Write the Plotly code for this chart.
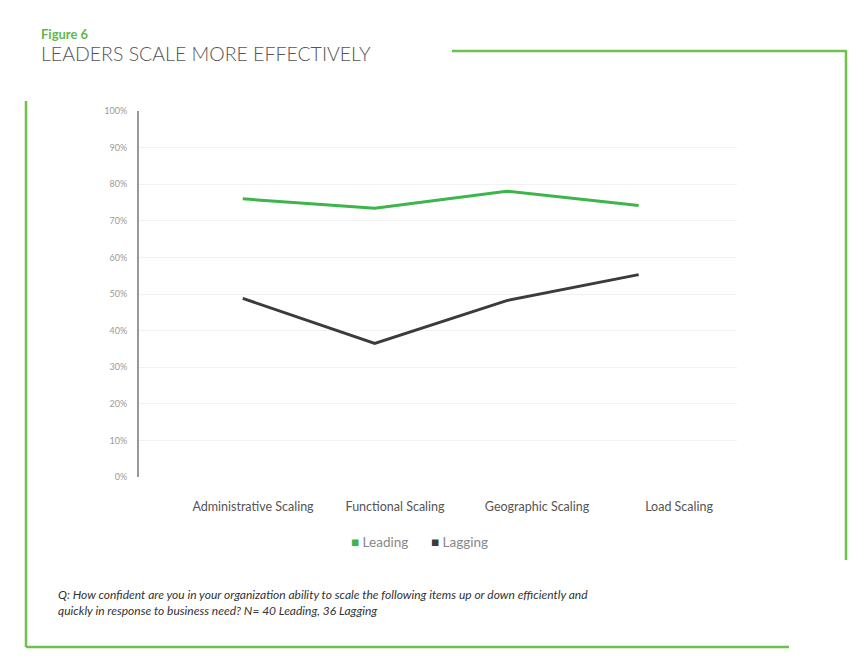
import plotly.graph_objects as go

categories = ["Administrative Scaling", "Functional Scaling", "Geographic Scaling", "Load Scaling"]
leading = [0.76, 0.734, 0.781, 0.742]
lagging = [0.488, 0.365, 0.482, 0.553]
y_ticks = [0, 0.1, 0.2, 0.3, 0.4, 0.5, 0.6, 0.7, 0.8, 0.9, 1.0]

GREEN = "#3db54a"
DARK = "#3b3b3b"
FRAME = "#6cc24a"
FONT = "Lato"

fig = go.Figure()
fig.add_trace(go.Scatter(x=categories, y=leading, mode="lines", name="Leading",
                         line=dict(color=GREEN, width=3), showlegend=False))
fig.add_trace(go.Scatter(x=categories, y=lagging, mode="lines", name="Lagging",
                         line=dict(color=DARK, width=3), showlegend=False))
# invisible trace carrying the category labels on the label axis
fig.add_trace(go.Scatter(x=categories, y=[None] * len(categories), xaxis="x2",
                         mode="lines", showlegend=False, hoverinfo="skip"))

fig.update_layout(
    width=864, height=668,
    margin=dict(l=131, r=135, t=103, b=199),
    paper_bgcolor="white", plot_bgcolor="white",
    font=dict(family=FONT, color="#555555"),
    xaxis=dict(type="category", range=[-0.786, 3.745], showticklabels=False,
               showgrid=False, zeroline=False, showline=False, ticks=""),
    xaxis2=dict(type="category", overlaying="x", side="bottom", range=[-0.803, 3.408],
                showgrid=False, zeroline=False, showline=False, ticks="",
                tickfont=dict(size=12.5, color="#555555", family=FONT),
                ticklabelstandoff=20),
    yaxis=dict(range=[0, 1], tickvals=y_ticks, tickformat=".0%",
               tickfont=dict(size=9, color="#9a9a9a", family=FONT),
               showgrid=True, gridcolor="#f2f2f2", gridwidth=1,
               zeroline=False, showline=True, linecolor="#999999", linewidth=2,
               ticks="", ticklabelstandoff=8),
)

# positions below are in reference-pixel coordinates, converted to paper units
def px_x(px):
    return (px - 139) / 598

def px_y(py):
    return (477 - py) / 366

frame_lines = [
    (452, 51, 847, 51),
    (846, 51, 846, 560),
    (26, 101, 26, 647),
    (26, 647, 789, 647),
]
for x0, y0, x1, y1 in frame_lines:
    fig.add_shape(type="line", xref="paper", yref="paper",
                  x0=px_x(x0), y0=px_y(y0), x1=px_x(x1), y1=px_y(y1),
                  line=dict(color=FRAME, width=2.5))

fig.add_annotation(xref="paper", yref="paper", x=px_x(39), y=px_y(34),
                   xanchor="left", yanchor="middle", showarrow=False,
                   text="<b>Figure 6</b>", font=dict(size=13, color="#5dba47", family=FONT))
fig.add_annotation(xref="paper", yref="paper", x=px_x(39), y=px_y(54),
                   xanchor="left", yanchor="middle", showarrow=False,
                   text="LEADERS SCALE MORE EFFECTIVELY",
                   font=dict(size=19.5, color="#555555", family=FONT, weight=300))

fig.add_annotation(xref="paper", yref="paper", x=px_x(349), y=px_y(542),
                   xanchor="left", yanchor="middle", showarrow=False,
                   text=f'<span style="color:{GREEN}">■</span> Leading',
                   font=dict(size=13.5, color="#888888", family=FONT))
fig.add_annotation(xref="paper", yref="paper", x=px_x(429), y=px_y(542),
                   xanchor="left", yanchor="middle", showarrow=False,
                   text=f'<span style="color:{DARK}">■</span> Lagging',
                   font=dict(size=13.5, color="#888888", family=FONT))

fig.add_annotation(xref="paper", yref="paper", x=px_x(56), y=px_y(602),
                   xanchor="left", yanchor="middle", showarrow=False, align="left",
                   text="<i>Q: How confident are you in your organization ability to scale the following items up or down efficiently and<br>"
                        "quickly in response to business need? N= 40 Leading, 36 Lagging</i>",
                   font=dict(size=12, color="#333333", family=FONT))

fig.write_html("out.html")
